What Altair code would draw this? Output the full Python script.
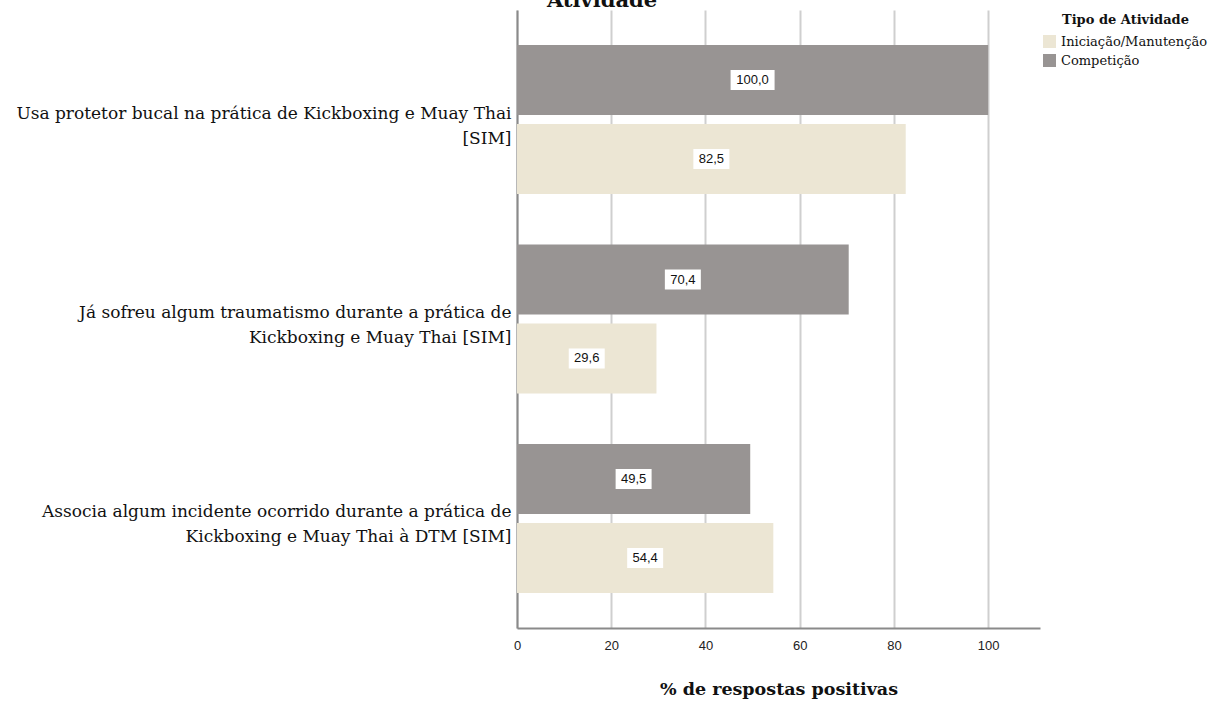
import altair as alt
import pandas as pd

# Survey questions (axis labels split on "|")
questions = [
    "Usa protetor bucal na prática de Kickboxing e Muay Thai|[SIM]",
    "Já sofreu algum traumatismo durante a prática de|Kickboxing e Muay Thai [SIM]",
    "Associa algum incidente ocorrido durante a prática de|Kickboxing e Muay Thai à DTM [SIM]",
]
groups = ["Competição", "Iniciação/Manutenção"]
legend_order = ["Iniciação/Manutenção", "Competição"]
competicao = [100.0, 70.4, 49.5]
iniciacao = [82.5, 29.6, 54.4]
x_ticks = [0, 20, 40, 60, 80, 100]

rows = []
for q, c, i in zip(questions, competicao, iniciacao):
    rows.append({"pergunta": q, "tipo": "Competição", "valor": c})
    rows.append({"pergunta": q, "tipo": "Iniciação/Manutenção", "valor": i})
df = pd.DataFrame(rows)

serif = "DejaVu Serif"
sans = "Liberation Sans"
gray = "#989493"
beige = "#ece6d4"

x_scale = alt.Scale(domain=[0, 111], nice=False, zero=True)
y_enc = alt.Y(
    "pergunta:N",
    sort=questions,
    scale=alt.Scale(paddingInner=0.253, paddingOuter=0.176),
    axis=alt.Axis(
        title=None,
        labelExpr="split(datum.label, '|')",
        labelFont=serif,
        labelFontSize=17,
        labelColor="#111",
        labelLimit=600,
        labelPadding=6,
        labelLineHeight=25,
        labelOffset=-6,
        ticks=False,
        domainColor="#8a8a8a",
        domainWidth=2,
        grid=False,
    ),
)
y_off = alt.YOffset(
    "tipo:N",
    sort=groups,
    scale=alt.Scale(paddingInner=0.113, paddingOuter=0),
)

base = alt.Chart(df).encode(y=y_enc, yOffset=y_off)

bars = base.mark_bar().encode(
    x=alt.X(
        "valor:Q",
        scale=x_scale,
        axis=alt.Axis(
            title="% de respostas positivas",
            titleFont=serif,
            titleFontSize=17.5,
            titleFontWeight="bold",
            titleColor="#111",
            titlePadding=28,
            values=x_ticks,
            labelFont=sans,
            labelFontSize=13,
            labelColor="#222",
            labelPadding=11,
            labelFlush=False,
            ticks=False,
            domainColor="#8a8a8a",
            domainWidth=2,
            grid=True,
            gridColor="#cfcfcf",
            gridWidth=2,
        ),
    ),
    color=alt.Color(
        "tipo:N",
        scale=alt.Scale(domain=legend_order, range=[beige, gray]),
        legend=alt.Legend(
            title=None,
            labelFont=serif,
            labelFontSize=13,
            labelColor="#111",
            labelOffset=5,
            symbolType="square",
            symbolSize=169,
            symbolStrokeWidth=0,
            rowPadding=5,
            orient="none",
            legendX=526,
            legendY=25,
        ),
    ),
)

# White boxes behind the value labels, shape chosen by label length
box5 = "M-1,-0.4545H1V0.4545H-1Z"
box4 = "M-0.818,-0.4545H0.818V0.4545H-0.818Z"
labels_base = base.transform_calculate(
    meio="datum.valor / 2",
    rotulo="replace(format(datum.valor, '.1f'), '.', ',')",
    comp="length(replace(format(datum.valor, '.1f'), '.', ','))",
)
boxes = labels_base.mark_point(filled=True, opacity=1, strokeWidth=0).encode(
    x=alt.X("meio:Q", scale=x_scale),
    shape=alt.Shape("comp:O", scale=alt.Scale(domain=[4, 5], range=[box4, box5]), legend=None),
    size=alt.value(1936),
    color=alt.value("white"),
)
texts = labels_base.mark_text(font=sans, fontSize=13, color="#111", baseline="middle").encode(
    x=alt.X("meio:Q", scale=x_scale),
    text="rotulo:N",
)

# Second line of the chart heading, partly above the canvas edge
heading = alt.Chart(pd.DataFrame({"t": ["Atividade"]})).mark_text(
    font=serif, fontSize=21, fontWeight="bold", color="#111", align="center", baseline="alphabetic"
).encode(x=alt.value(85), y=alt.value(-3), text="t:N")

# Legend heading, indented to line up with the legend labels
legend_title = alt.Chart(pd.DataFrame({"t": ["Tipo de Atividade"]})).mark_text(
    font=serif, fontSize=13, fontWeight="bold", color="#111", align="left", baseline="alphabetic"
).encode(x=alt.value(545), y=alt.value(14), text="t:N")

chart = (
    alt.layer(bars, boxes, texts, heading, legend_title)
    .properties(
        width=523,
        height=618,
        background="white",
        autosize=alt.AutoSizeParams(type="none"),
        padding={"left": 517, "top": 10, "right": 177, "bottom": 74},
    )
    .configure_view(stroke="transparent", strokeWidth=0)
)

chart.save("out.html", embed_options={"renderer": "svg", "actions": False})
